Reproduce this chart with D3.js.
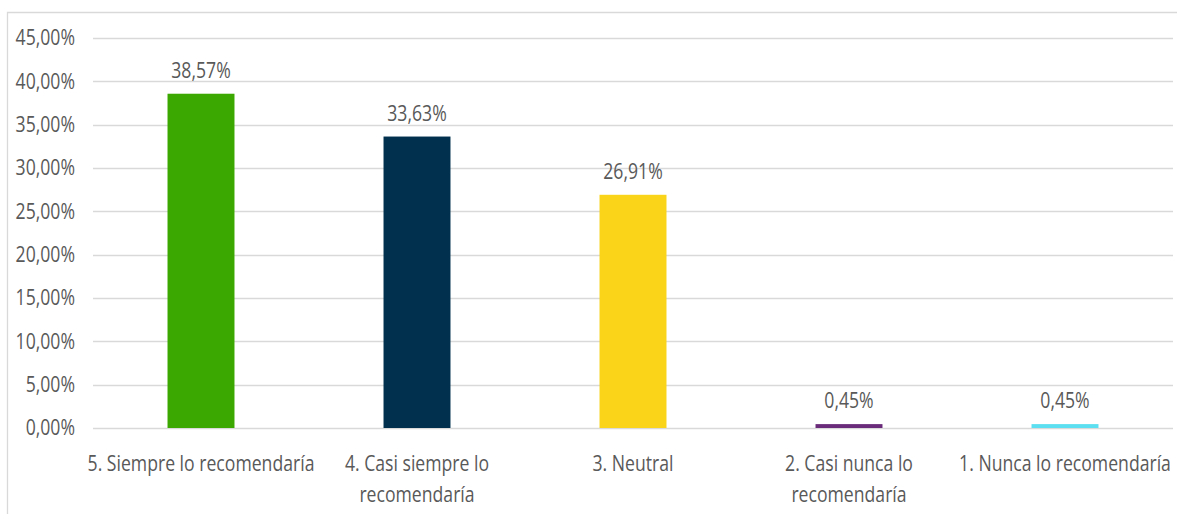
<!DOCTYPE html>
<html>
<head>
<meta charset="utf-8">
<script src="https://cdn.jsdelivr.net/npm/d3@7"></script>
<style>
  html, body { margin: 0; padding: 0; background: #fff; }
  svg { display: block; }
  text { font-family: "Open Sans", sans-serif; fill: #595959; }
</style>
</head>
<body>
<svg id="chart" width="1177" height="514"></svg>
<script>
const categories = [
  "5. Siempre lo recomendaría",
  "4. Casi siempre lo recomendaría",
  "3. Neutral",
  "2. Casi nunca lo recomendaría",
  "1. Nunca lo recomendaría"
];
const values = [38.57, 33.63, 26.91, 0.45, 0.45];
const colors = ["#3aa800", "#00304e", "#f9d419", "#6a2c7a", "#5cdff0"];
const yTicks = [0, 5, 10, 15, 20, 25, 30, 35, 40, 45];

const W = 1177, H = 514;
const margin = { left: 93, right: 4, top: 38, bottom: 86 };
const SX = 0.84;          // horizontal condensing to mimic Calibri
const FS = 21;

const svg = d3.select("#chart");
const fmt = v => d3.format(".2f")(v).replace(".", ",") + "%";

const x = d3.scaleBand()
  .domain(categories)
  .range([margin.left, W - margin.right])
  .paddingInner(0.69)
  .paddingOuter(0.345);

const y = d3.scaleLinear()
  .domain([0, 45])
  .range([H - margin.bottom, margin.top]);

// chart frame (top & left edges visible)
svg.append("path")
  .attr("d", `M7.5,${H} V12.5 H${W}`)
  .attr("fill", "none")
  .attr("stroke", "#d9d9d9")
  .attr("stroke-width", 1.3);

// gridlines
svg.append("g")
  .selectAll("line")
  .data(yTicks)
  .join("line")
  .attr("x1", margin.left)
  .attr("x2", W - margin.right)
  .attr("y1", d => Math.round(y(d)) + 0.5)
  .attr("y2", d => Math.round(y(d)) + 0.5)
  .attr("stroke", "#d9d9d9")
  .attr("stroke-width", 1.4);

// y tick labels
svg.append("g")
  .selectAll("text")
  .data(yTicks)
  .join("text")
  .attr("transform", d => `translate(75,${y(d)}) scale(${SX},1)`)
  .attr("dy", "0.35em")
  .attr("text-anchor", "end")
  .style("font-size", FS + "px")
  .text(d => fmt(d));

// bars
svg.append("g")
  .selectAll("rect")
  .data(values)
  .join("rect")
  .attr("x", (d, i) => x(categories[i]))
  .attr("width", x.bandwidth())
  .attr("y", d => y(d))
  .attr("height", d => y(0) - y(d))
  .attr("fill", (d, i) => colors[i]);

// value labels
svg.append("g")
  .selectAll("text")
  .data(values)
  .join("text")
  .attr("transform", (d, i) =>
    `translate(${x(categories[i]) + x.bandwidth() / 2},${y(d) - 16}) scale(${SX},1)`)
  .attr("text-anchor", "middle")
  .style("font-size", FS + "px")
  .text(d => fmt(d));

// category labels with wrapping
const maxW = 240;
const catG = svg.append("g");
categories.forEach((c, i) => {
  const cx = x(c) + x.bandwidth() / 2;
  const t = catG.append("text")
    .attr("transform", `translate(${cx},${y(0) + 43}) scale(${SX},1)`)
    .attr("text-anchor", "middle")
    .style("font-size", FS + "px");
  const words = c.split(" ");
  let lines = [];
  let line = [];
  let tsp = t.append("tspan").attr("x", 0).attr("y", 0);
  words.forEach(w => {
    line.push(w);
    tsp.text(line.join(" "));
    if (tsp.node().getComputedTextLength() * SX > maxW && line.length > 1) {
      line.pop();
      tsp.text(line.join(" "));
      lines.push(line.join(" "));
      line = [w];
      tsp = t.append("tspan").attr("x", 0).attr("y", 31 * lines.length).text(w);
    }
  });
});
</script>
</body>
</html>
